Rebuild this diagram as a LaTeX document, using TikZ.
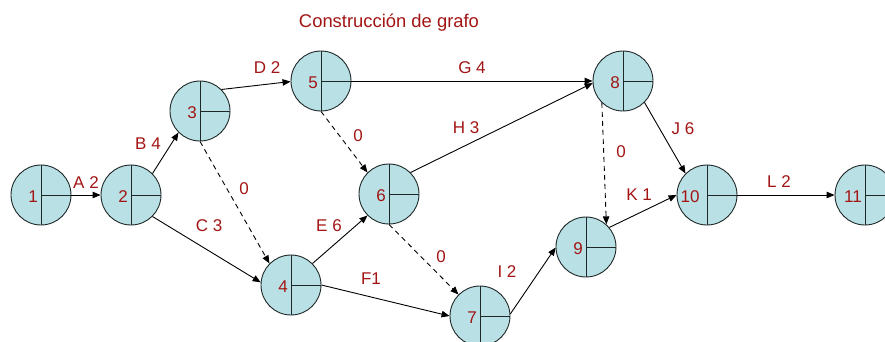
\documentclass[tikz,border=0pt]{standalone}
\usepackage{fontspec}
\setmainfont{Liberation Sans}
\usetikzlibrary{arrows.meta}
\definecolor{labred}{RGB}{163,21,21}
\definecolor{evfill}{RGB}{185,224,228}
\definecolor{evline}{RGB}{30,40,40}
\tikzset{
  ev/.style={circle, minimum size=60pt, inner sep=0pt, fill=evfill, draw=evline, line width=0.9pt},
  evinner/.style={draw=evline, line width=0.9pt},
  num/.style={font=\fontsize{17}{17}\selectfont, text=labred, inner sep=0pt, anchor=base},
  lab/.style={font=\fontsize{17}{17}\selectfont, text=labred, inner sep=0pt},
  arr/.style={-{Triangle[length=8pt,width=6.5pt]}, line width=0.9pt, black},
  dsh/.style={arr, dash pattern=on 5pt off 4pt}
}
\newcommand\evnode[4]{%
  \node[ev] (n#1) at (#2) {};
  \draw[evinner] (n#1.north) -- (n#1.south);
  \draw[evinner] (n#1.center) -- (n#1.east);
  \node[num] (t#1) at ([xshift=#4, yshift=-7pt]n#1.center) {#3};
}
\begin{document}
\begin{tikzpicture}[x=1pt,y=-1pt]
\useasboundingbox (0,0) rectangle (885,341);
\clip (0,0) rectangle (885,341);
\node[lab, anchor=base, font=\fontsize{18.4}{18.4}\selectfont] (title) at (389,27) {Construcción de grafo};
\evnode{1}{41,195}{1}{-8pt}
\evnode{2}{131,195}{2}{-8pt}
\evnode{3}{200,111}{3}{-8pt}
\evnode{4}{291,285}{4}{-8pt}
\evnode{5}{321,81}{5}{-8pt}
\evnode{6}{389,194}{6}{-8pt}
\evnode{7}{480,316}{7}{-8pt}
\evnode{8}{623,81}{8}{-8pt}
\evnode{9}{586,247}{9}{-8pt}
\evnode{10}{707,195}{10}{-17pt}
\evnode{11}{865,195}{11}{-12pt}
% connectors
\draw[arr] (n1.east) -- (n2.west);
\draw[arr] (n2.45) -- (n3.225);
\draw[arr] (n2.-45) -- (n4.175);
\draw[dsh] (n3.south) -- (n4.135);
\draw[arr] (n3.45) -- (n5.181);
\draw[arr] (n5.east) -- (n8.west);
\draw[dsh] (n5.south) -- (n6.135);
\draw[arr] (n4.45) -- (n6.225);
\draw[arr] (n4.east) -- (n7.west);
\draw[arr] (n6.45) -- (n8.184);
\draw[dsh] (n6.south) -- (n7.135);
\draw[arr] (n7.4) -- (n9.181);
\draw[dsh] (n8.226) -- (n9.48);
\draw[arr] (n9.40) -- (n10.west);
\draw[arr] (n8.-45) -- (n10.135);
\draw[arr] (n10.east) -- (n11.west);
% labels
\node[lab] (lA) at (86,183) {A 2};
\node[lab] (lB) at (148,144) {B 4};
\node[lab] (lC) at (209,226) {C 3};
\node[lab] (l34) at (244,189) {0};
\node[lab] (lD) at (267,68) {D 2};
\node[lab] (lG) at (472,68) {G 4};
\node[lab] (l56) at (358,136) {0};
\node[lab] (lH) at (466,128) {H 3};
\node[lab] (lE) at (329,226) {E 6};
\node[lab] (lF) at (371,279) {F1};
\node[lab] (l67) at (441,257) {0};
\node[lab] (lI) at (507,272) {I 2};
\node[lab] (l89) at (621,152) {0};
\node[lab] (lJ) at (683,129) {J 6};
\node[lab] (lK) at (639,195) {K 1};
\node[lab] (lL) at (779,182) {L 2};
\end{tikzpicture}
\end{document}
